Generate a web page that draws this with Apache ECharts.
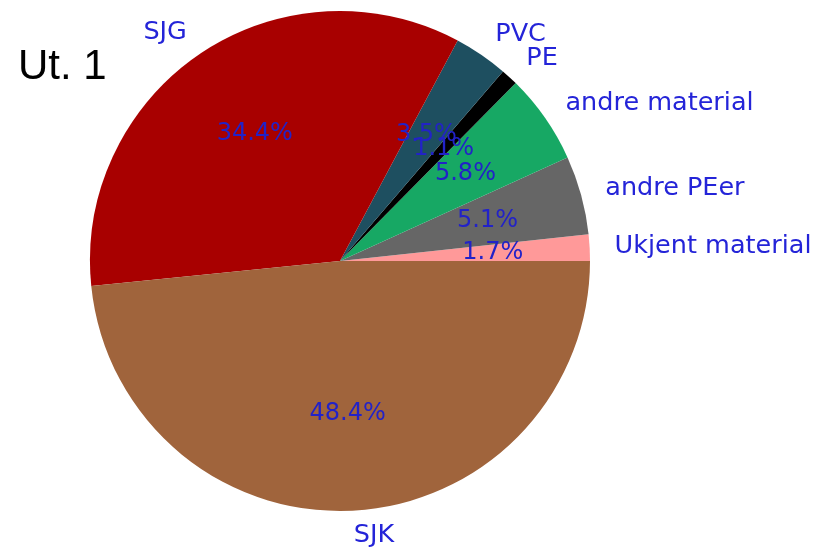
<!DOCTYPE html>
<html>
<head>
<meta charset="utf-8">
<script src="https://cdn.jsdelivr.net/npm/echarts@6/dist/echarts.min.js"></script>
<style>
html, body { margin: 0; padding: 0; background: #fff; }
#main { width: 824px; height: 555px; }
</style>
</head>
<body>
<div id="main"></div>
<script>
// slices, counter-clockwise from 3 o'clock (matplotlib order)
var labels = ['Ukjent material', 'andre PEer', 'andre material', 'PE', 'PVC', 'SJG', 'SJK'];
var shares = [1.7, 5.1, 5.8, 1.1, 3.5, 34.4, 48.4];
var colors = ['#ff9999', '#666666', '#17a864', '#000000', '#1e4f60', '#a80000', '#a0643c'];

var chart = echarts.init(document.getElementById('main'));

var pieData = labels.map(function (name, i) {
  return { name: name, value: shares[i], itemStyle: { color: colors[i] } };
});

chart.setOption({
  animation: false,
  title: {
    text: 'Ut. 1',
    left: 13,
    top: 41,
    textStyle: { fontFamily: 'Liberation Sans', fontSize: 42, fontWeight: 'normal', color: '#000' }
  },
  series: [
    {
      type: 'pie',
      center: [340, 261],
      radius: [0, 250],
      startAngle: 0,
      clockwise: false,
      avoidLabelOverlap: false,
      silent: true,
      emphasis: { disabled: true },
      itemStyle: { borderWidth: 0 },
      label: {
        show: true,
        position: 'outside',
        formatter: '{b}',
        distanceToLabelLine: 0,
        fontFamily: 'DejaVu Sans',
        fontSize: 25.5,
        color: '#2424d8'
      },
      labelLine: { show: false, length: 25, length2: 0 },
      labelLayout: { hideOverlap: false },
      data: pieData
    },
    {
      // invisible ring, only used to put the percentages at 0.6 r
      type: 'pie',
      center: [340, 261],
      radius: [50, 250],
      startAngle: 0,
      clockwise: false,
      avoidLabelOverlap: false,
      silent: true,
      emphasis: { disabled: true },
      itemStyle: { color: 'rgba(0,0,0,0)', borderWidth: 0 },
      label: {
        show: true,
        position: 'inside',
        formatter: function (p) { return p.value.toFixed(1) + '%'; },
        fontFamily: 'DejaVu Sans',
        fontSize: 24,
        color: '#2222c8'
      },
      labelLayout: { hideOverlap: false },
      data: labels.map(function (name, i) { return { name: name, value: shares[i] }; })
    }
  ]
});
</script>
</body>
</html>
